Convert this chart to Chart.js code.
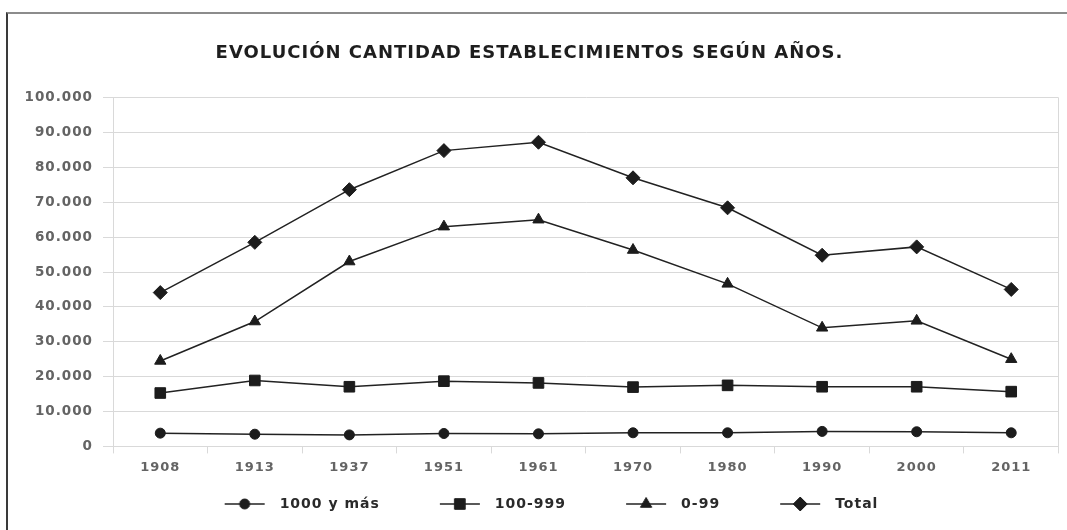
<!DOCTYPE html>
<html>
<head>
<meta charset="utf-8">
<script src="https://cdn.jsdelivr.net/npm/chart.js@4.4.1/dist/chart.umd.min.js"></script>
<style>
  html, body { margin: 0; padding: 0; background: #fff; }
  #wrap { position: relative; width: 1067px; height: 530px; overflow: hidden; }
  /* frame of the original scan: only left and top edges are visible */
  #frame { position: absolute; left: 6px; top: 12px; width: 1100px; height: 600px;
           border-left: 2px solid #3a3a3a; border-top: 2px solid #8c8c8c; }
  #line-chart { position: absolute; left: 0; top: 0; }
</style>
</head>
<body>
<div id="wrap">
  <div id="frame"></div>
  <canvas id="line-chart" width="1067" height="530"></canvas>
</div>
<script>
// years on the x axis
const years = ['1908', '1913', '1937', '1951', '1961', '1970', '1980', '1990', '2000', '2011'];

// establishments by size
const grandes  = [3800, 3500, 3300, 3700, 3600, 3900, 3900, 4300, 4200, 3900];          // 1000 y más
const medianos = [15300, 18900, 17100, 18700, 18200, 17000, 17500, 17100, 17100, 15700]; // 100-999
const pequenos = [24500, 35800, 53000, 63000, 65000, 56300, 46600, 34000, 36000, 25000]; // 0-99
const totales  = [44100, 58500, 73600, 84800, 87200, 77000, 68400, 54800, 57200, 45000]; // Total

const seriesNames = ['1000 y más', '100-999', '0-99', 'Total'];

// y axis range
const yMin = 0;
const yMax = 100000;
const yStep = 10000;

const ink = '#1c1c1c';
const gridGray = '#d9d9d9';
const markers = [
    { style: 'circle', radius: 5 },
    { style: 'rect', radius: 7.5 },
    { style: 'triangle', radius: 6.5 },
    { style: 'rectRot', radius: 7 }
];

// legend icon: blank gap, short line, marker in the middle of the line
function legendIcon(m) {
    const c = document.createElement('canvas');
    c.width = 92;
    c.height = 16;
    const g = c.getContext('2d');
    g.strokeStyle = '#222';
    g.lineWidth = 1.5;
    g.beginPath();
    g.moveTo(44, 8);
    g.lineTo(84, 8);
    g.stroke();
    g.fillStyle = ink;
    g.strokeStyle = ink;
    g.lineWidth = 1;
    Chart.helpers.drawPoint(g, { pointStyle: m.style, radius: m.radius, borderWidth: 1 }, 64, 8);
    return c;
}
const icons = markers.map(legendIcon);

// wide, spaced-out lettering like the original
const spacing = {
    id: 'spacing',
    beforeUpdate(chart) { chart.ctx.letterSpacing = '1px'; },
    beforeDraw(chart) { chart.ctx.letterSpacing = '1px'; }
};

function makeDataset(label, values, m) {
    return {
        label: label,
        data: values,
        fill: false,
        borderColor: '#222',
        borderWidth: 1.5,
        backgroundColor: ink,
        pointStyle: m.style,
        pointRadius: m.radius,
        pointHoverRadius: m.radius,
        pointBackgroundColor: ink,
        pointBorderColor: ink,
        pointBorderWidth: 1,
        tension: 0
    };
}

const lineChart = document.getElementById('line-chart');

const myChart = new Chart(lineChart, {
    type: 'line',
    data: {
        labels: years,
        datasets: [
            makeDataset(seriesNames[0], grandes, markers[0]),
            makeDataset(seriesNames[1], medianos, markers[1]),
            makeDataset(seriesNames[2], pequenos, markers[2]),
            makeDataset(seriesNames[3], totales, markers[3])
        ]
    },
    plugins: [spacing],
    options: {
        responsive: false,
        animation: false,
        layout: {
            padding: { left: 0, right: 8, top: 0, bottom: 9 }
        },
        scales: {
            x: {
                offset: true,
                grid: {
                    offset: true,
                    // only the outer edges are drawn through the plot
                    color: ctx => (ctx.type !== 'tick' || ctx.index === 0) ? gridGray : 'rgba(0,0,0,0)',
                    tickColor: gridGray,
                    tickLength: 7
                },
                border: { color: gridGray },
                ticks: {
                    color: '#646464',
                    padding: 6,
                    font: { family: 'DejaVu Sans', weight: 'bold', size: 13 }
                }
            },
            y: {
                min: yMin,
                max: yMax,
                afterFit: scale => { scale.width = 113; },
                grid: {
                    color: gridGray,
                    tickColor: gridGray,
                    tickLength: 10
                },
                border: { color: gridGray },
                ticks: {
                    stepSize: yStep,
                    color: '#646464',
                    padding: 10,
                    font: { family: 'DejaVu Sans', weight: 'bold', size: 13.5 },
                    callback: v => String(v).replace(/\B(?=(\d{3})+(?!\d))/g, '.')
                }
            }
        },
        plugins: {
            title: {
                display: true,
                text: 'EVOLUCIÓN CANTIDAD ESTABLECIMIENTOS SEGÚN AÑOS.',
                color: '#1e1e1e',
                font: { family: 'DejaVu Sans', weight: 'bold', size: 18 },
                padding: { top: 43, bottom: 33 }
            },
            legend: {
                position: 'bottom',
                labels: {
                    color: '#2a2a2a',
                    font: { family: 'DejaVu Sans', weight: 'bold', size: 14 },
                    usePointStyle: true,
                    pointStyleWidth: 92,
                    padding: 16,
                    generateLabels(chart) {
                        const items = Chart.defaults.plugins.legend.labels.generateLabels(chart);
                        items.forEach((it, i) => { it.pointStyle = icons[i]; });
                        return items;
                    }
                }
            },
            tooltip: { enabled: false }
        }
    }
});
</script>
</body>
</html>
